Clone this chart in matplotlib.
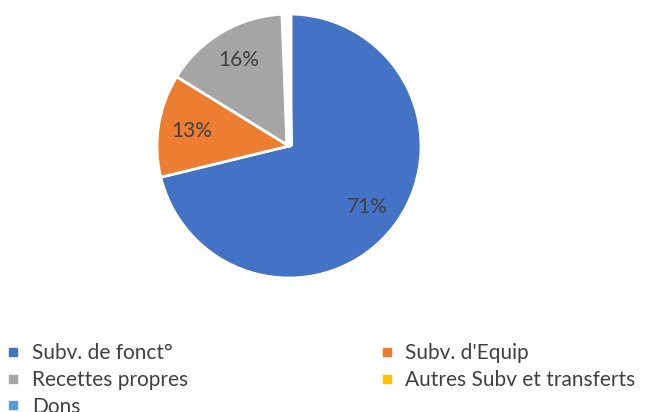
import matplotlib
matplotlib.use("Agg")
import matplotlib.pyplot as plt
from matplotlib.lines import Line2D

categories = ["Subv. de fonct°", "Subv. d'Equip", "Recettes propres",
              "Autres Subv et transferts", "Dons"]
values = [71.2, 12.6, 15.6, 0.4, 0.2]
colors = ["#4472C4", "#ED7D31", "#A5A5A5", "#FFC000", "#5B9BD5"]

plt.rcParams['font.family'] = ['Lato', 'DejaVu Sans']

fig = plt.figure(figsize=(6.52, 4.12), dpi=100)
W, H = 652, 412
cx, cy, r = 289, 146, 132
ax = fig.add_axes([(cx - r) / W, (H - cy - r) / H, 2 * r / W, 2 * r / H])

def fmt(p):
    return f"{p:.0f}%" if p >= 1 else ""

wedges, texts, autotexts = ax.pie(
    values, colors=colors, startangle=90, counterclock=False,
    autopct=fmt, pctdistance=0.75,
    wedgeprops=dict(edgecolor="white", linewidth=2),
    textprops=dict(color="#404040", fontsize=15))
for w in wedges[3:]:
    w.set_linewidth(5)
ax.set_xlim(-1.0, 1.0)
ax.set_ylim(-1.0, 1.0)
ax.set_aspect("equal")

handles = [Line2D([0], [0], marker='s', linestyle='none', markersize=5.5,
                  markerfacecolor=c, markeredgecolor=c) for c in colors]
order = [0, 2, 4, 1, 3]
leg = fig.legend([handles[i] for i in order], [categories[i] for i in order],
                 loc="upper left", bbox_to_anchor=(7 / W, 1 - 343 / H),
                 ncol=2, frameon=False, fontsize=15, handlelength=0.6,
                 handletextpad=0.6, columnspacing=9.23, labelspacing=0.33,
                 borderpad=0, borderaxespad=0, labelcolor="#404040")

fig.savefig("out.png", dpi=100)
